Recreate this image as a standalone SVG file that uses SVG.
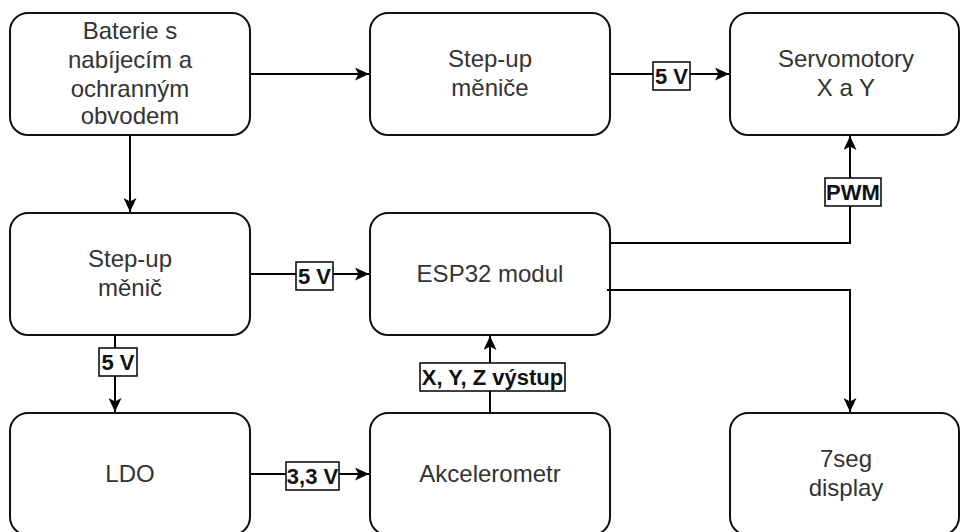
<svg xmlns="http://www.w3.org/2000/svg" width="961" height="532" viewBox="0 0 961 532">
<style>
.box{fill:#fff;stroke:#111;stroke-width:2}
.t{font-family:"Liberation Sans",Arial,sans-serif;font-size:24px;fill:#333;text-anchor:middle}
.ln{fill:none;stroke:#000;stroke-width:2}
.lb{fill:#fff;stroke:#000;stroke-width:1.5}
.lt{font-family:"Liberation Sans",Arial,sans-serif;font-size:22px;font-weight:bold;fill:#111;text-anchor:middle}
</style>
<defs>
<marker id="arr" markerUnits="userSpaceOnUse" markerWidth="15" markerHeight="13" refX="14" refY="6.5" orient="auto">
<path d="M0,0 L14,6.5 L0,13 L3.5,6.5 z" fill="#000"/>
</marker>
</defs>
<rect width="961" height="532" fill="#fff"/>
<g id="n-baterie"><rect class="box" x="10" y="13" width="240" height="122" rx="18"/>
<text class="t"><tspan x="130" y="39">Baterie s</tspan><tspan x="130" y="68">nabíjecím a</tspan><tspan x="130" y="96.5">ochranným</tspan><tspan x="130" y="124">obvodem</tspan></text></g>
<g id="n-stepup-meniče"><rect class="box" x="370" y="13" width="240" height="122" rx="18"/>
<text class="t"><tspan x="490" y="66.5">Step-up</tspan><tspan x="490" y="95.5">měniče</tspan></text></g>
<g id="n-servo"><rect class="box" x="730" y="13" width="229" height="122" rx="18"/>
<text class="t"><tspan x="846" y="66.5">Servomotory</tspan><tspan x="846" y="95.5">X a Y</tspan></text></g>
<g id="n-stepup-menic"><rect class="box" x="10" y="213" width="240" height="122" rx="18"/>
<text class="t"><tspan x="130" y="266.5">Step-up</tspan><tspan x="130" y="295.5">měnič</tspan></text></g>
<g id="n-esp32"><rect class="box" x="370" y="213" width="240" height="122" rx="18"/>
<text class="t" x="490" y="282">ESP32 modul</text></g>
<g id="n-ldo"><rect class="box" x="10" y="413" width="240" height="122" rx="18"/>
<text class="t" x="130" y="482">LDO</text></g>
<g id="n-akcel"><rect class="box" x="370" y="413" width="240" height="122" rx="18"/>
<text class="t" x="490" y="482">Akcelerometr</text></g>
<g id="n-7seg"><rect class="box" x="730" y="413" width="229" height="122" rx="18"/>
<text class="t"><tspan x="846" y="466.5">7seg</tspan><tspan x="846" y="495.5">display</tspan></text></g>
<g id="connectors">
<path class="ln" d="M250,74 H369" marker-end="url(#arr)"/>
<path class="ln" d="M610,74 H729" marker-end="url(#arr)"/>
<path class="ln" d="M130,135 V212" marker-end="url(#arr)"/>
<path class="ln" d="M250,274 H369" marker-end="url(#arr)"/>
<path class="ln" d="M115,335 V412" marker-end="url(#arr)"/>
<path class="ln" d="M250,474 H369" marker-end="url(#arr)"/>
<path class="ln" d="M490,413 V336" marker-end="url(#arr)"/>
<path class="ln" d="M610,243 H850 V136" marker-end="url(#arr)"/>
<path class="ln" d="M607,290 H850 V412" marker-end="url(#arr)"/>
<rect class="lb" x="653" y="62" width="37" height="28"/><text class="lt" x="671.5" y="84">5 V</text>
<rect class="lb" x="296" y="262" width="37" height="28"/><text class="lt" x="314.5" y="284">5 V</text>
<rect class="lb" x="99" y="348" width="38" height="28"/><text class="lt" x="118" y="370">5 V</text>
<rect class="lb" x="286" y="462" width="53" height="28"/><text class="lt" x="312.5" y="484">3,3 V</text>
<rect class="lb" x="420" y="363" width="145" height="28"/><text class="lt" x="492.5" y="385">X, Y, Z výstup</text>
<rect class="lb" x="825" y="178" width="56" height="28"/><text class="lt" x="853" y="200">PWM</text>
</g>
</svg>
